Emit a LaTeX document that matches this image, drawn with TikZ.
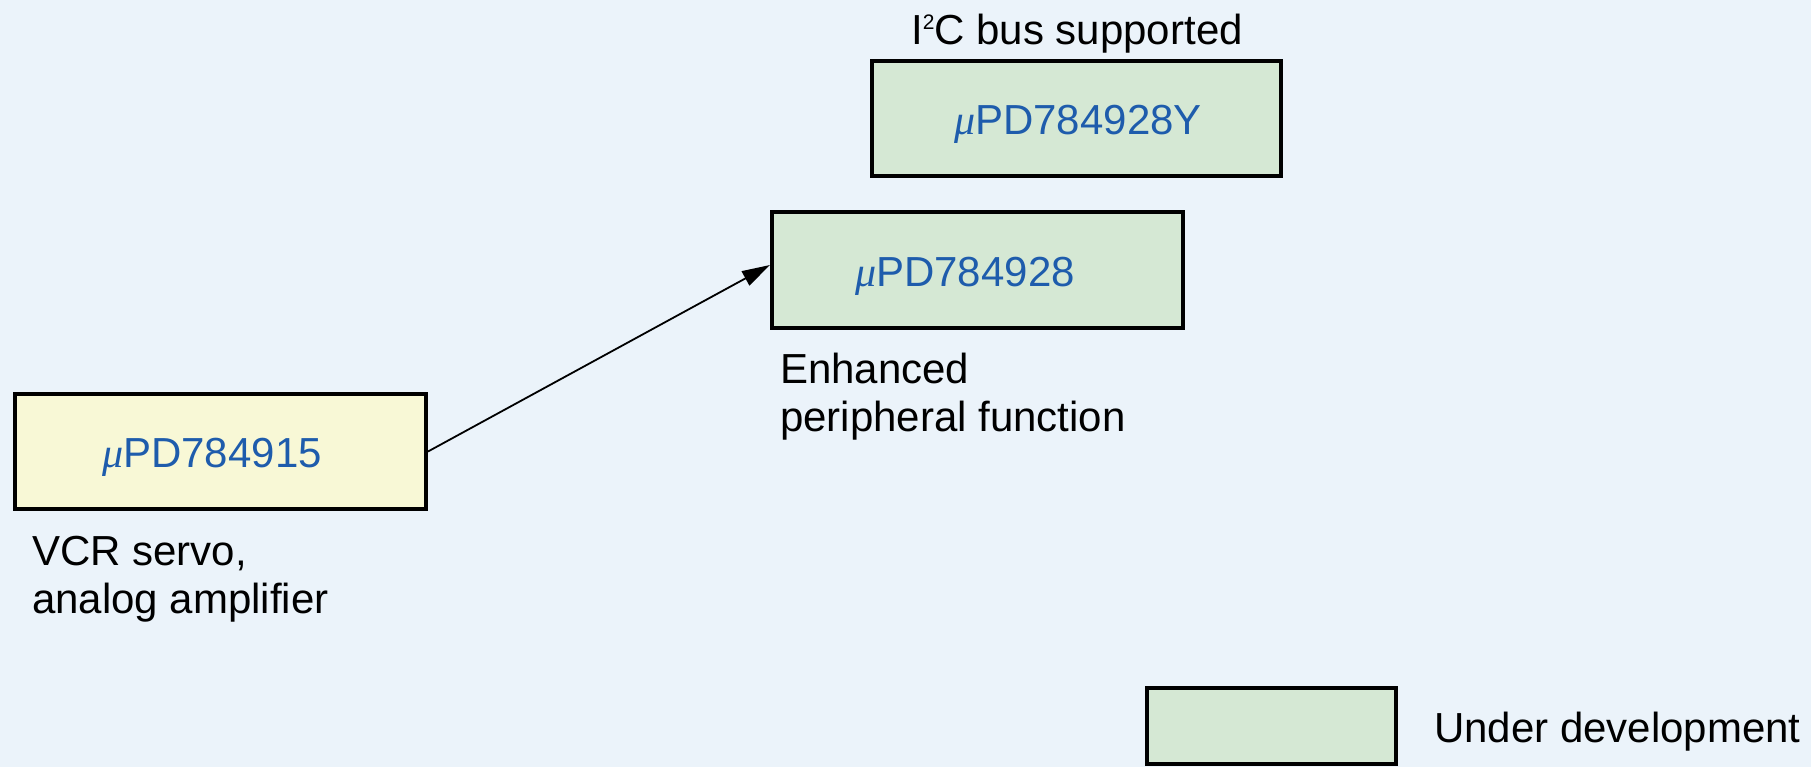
\documentclass[tikz,border=0pt]{standalone}
\usepackage{fontspec}
\setmainfont{Liberation Sans}
\newfontfamily\muserif{Liberation Serif}
\usetikzlibrary{arrows.meta}
\definecolor{bgcol}{RGB}{235,243,250}
\definecolor{devgreen}{RGB}{213,232,212}
\definecolor{oldyellow}{RGB}{248,248,214}
\definecolor{partblue}{RGB}{30,92,172}
\newcommand{\mup}{{\muserif\itshape μ}}
\newcommand{\suptwo}{\raisebox{15pt}{\fontsize{21}{21}\selectfont 2}}
\tikzset{
  chipbox/.style={draw=black, line width=4pt, rectangle, inner sep=0pt},
  partname/.style={text=partblue, inner sep=0pt, font=\fontsize{42}{48}\selectfont},
  note/.style={text=black, inner sep=0pt, align=left, font=\fontsize{42}{48}\selectfont},
  link/.style={draw=black, line width=1.8pt, -{Triangle[length=28pt,width=16pt]}}
}
\begin{document}
\begin{tikzpicture}[x=1pt,y=-1pt]
\fill[bgcol] (0,0) rectangle (1811,767);
\useasboundingbox (0,0) rectangle (1811,767);

% boxes
\node[chipbox, fill=devgreen, minimum width=409pt, minimum height=115pt] (bY) at (1076.5,118.5) {};
\node[chipbox, fill=devgreen, minimum width=411pt, minimum height=116pt] (b928) at (977.5,270) {};
\node[chipbox, fill=oldyellow, minimum width=411pt, minimum height=115pt] (b915) at (220.5,451.5) {};
\node[chipbox, fill=devgreen, minimum width=249pt, minimum height=76pt] (leg) at (1271.5,726) {};

% part names
\node[partname, anchor=base] (tY) at (1078,135) {\mup PD784928Y};
\node[partname, anchor=base] (t928) at (965,287) {\mup PD784928};
\node[partname, anchor=base] (t915) at (212,467) {\mup PD784915};

% notes (base anchor = baseline of the last line)
\node[note, anchor=base] (nI2C) at (1077,45) {I\suptwo C bus supported};
\node[note, anchor=base west] (nEnh) at (780,431) {Enhanced\\peripheral function};
\node[note, anchor=base west] (nVCR) at (32,613) {VCR servo,\\analog amplifier};
\node[note, anchor=base west] (nLeg) at (1434,742) {Under development};

% connector
\draw[link] (b915.east) -- ([yshift=5pt]b928.west);
\end{tikzpicture}
\end{document}
